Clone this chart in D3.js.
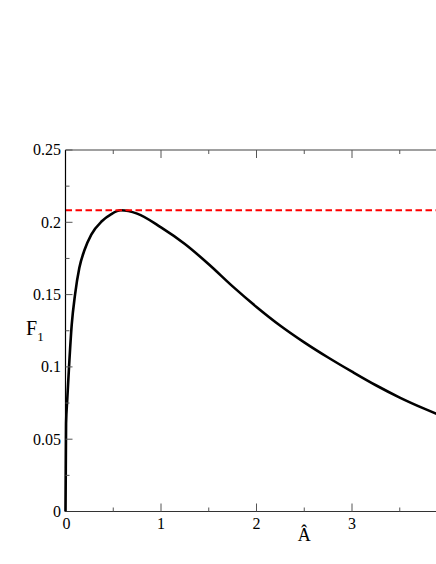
<!DOCTYPE html>
<html><head><meta charset="utf-8">
<script src="https://cdn.jsdelivr.net/npm/d3@7"></script>
<style>html,body{margin:0;padding:0;background:#fff;overflow:hidden}
text{font-family:"Liberation Serif","Times New Roman",Times,"DejaVu Serif",serif}</style>
</head><body>
<script>
// Data
const curveX = [0, 0.003, 0.006, 0.018, 0.037, 0.065, 0.1, 0.145, 0.2, 0.27, 0.38, 0.48, 0.58, 0.75, 1.0, 1.25, 1.5, 1.75, 2.0, 2.25, 2.5, 2.75, 3.0, 3.25, 3.5, 3.75, 4.0];
const curveY = [0, 0.03, 0.061, 0.077, 0.1, 0.129, 0.15, 0.1685, 0.181, 0.1915, 0.2007, 0.2057, 0.2083, 0.206, 0.1965, 0.185, 0.171, 0.1557, 0.1415, 0.1285, 0.117, 0.1065, 0.0967, 0.0873, 0.0788, 0.0713, 0.0645];
const maxLevel = [0.2083];
const xMajorTicks = [0, 1, 2, 3];
const xMinorTicks = [0.5, 1.5, 2.5, 3.5];
const yMajorTicks = [0, 0.05, 0.1, 0.15, 0.2, 0.25];
const yMinorTicks = [0.025, 0.075, 0.125, 0.175, 0.225];
const yTickLabels = ["0", "0.05", "0.1", "0.15", "0.2", "0.25"];
const xTickLabels = ["0", "1", "2", "3"];

const W = 436, H = 564;
const svg = d3.select("body").append("svg").attr("width", W).attr("height", H);
const x = d3.scaleLinear().domain([0, 4]).range([65.5, 447.5]);
const y = d3.scaleLinear().domain([0, 0.25]).range([511.5, 150]);

// curve
const pts = curveX.map((v, i) => [v, curveY[i]]);
svg.append("path").datum(pts)
  .attr("fill", "none").attr("stroke", "#000").attr("stroke-width", 2.6)
  .attr("d", d3.line().x(d => x(d[0])).y(d => y(d[1])).curve(d3.curveMonotoneX));

// dashed line
svg.selectAll(".lvl").data(maxLevel).enter().append("line")
  .attr("x1", x(0)).attr("x2", x(4)).attr("y1", d => y(d)).attr("y2", d => y(d))
  .attr("stroke", "#ff0000").attr("stroke-width", 2).attr("stroke-dasharray", "6.5,3.5");

// frame
const g = svg.append("g");
g.append("line").attr("x1", x(0)).attr("x2", x(4)).attr("y1", y(0.25)).attr("y2", y(0.25)).attr("stroke", "#808080").attr("stroke-width", 1.6);
g.append("line").attr("x1", x(0)).attr("x2", x(4)).attr("y1", y(0)).attr("y2", y(0)).attr("stroke", "#333").attr("stroke-width", 1.2);
g.append("line").attr("x1", x(0)).attr("x2", x(0)).attr("y1", y(0)).attr("y2", y(0.25)).attr("stroke", "#000").attr("stroke-width", 1.2);

function xt(data, len) {
  data.forEach(v => {
    g.append("line").attr("x1", x(v)).attr("x2", x(v)).attr("y1", y(0)).attr("y2", y(0) - len).attr("stroke", "#555").attr("stroke-width", 1);
    g.append("line").attr("x1", x(v)).attr("x2", x(v)).attr("y1", y(0.25)).attr("y2", y(0.25) + len).attr("stroke", "#555").attr("stroke-width", 1);
  });
}
xt(xMajorTicks.slice(1), 8);
xt(xMinorTicks, 4);
function yt(data, len) {
  data.forEach(v => {
    g.append("line").attr("x1", x(0)).attr("x2", x(0) + len).attr("y1", y(v)).attr("y2", y(v)).attr("stroke", "#555").attr("stroke-width", 1);
  });
}
yt(yMajorTicks.slice(1), 7);
yt(yMinorTicks, 4);

// tick labels
svg.selectAll(".yl").data(yMajorTicks).enter().append("text")
  .attr("x", 61).attr("y", d => y(d)).attr("dy", "0.34em")
  .attr("text-anchor", "end").attr("font-size", 16)
  .text((d, i) => yTickLabels[i]);
svg.selectAll(".xl").data(xMajorTicks).enter().append("text")
  .attr("x", d => x(d) + (d === 0 ? 1 : 0)).attr("y", 528.5)
  .attr("text-anchor", "middle").attr("font-size", 16)
  .text((d, i) => xTickLabels[i]);

// axis titles
svg.append("text").attr("x", x(2.5)).attr("y", 541).attr("text-anchor", "middle")
  .attr("font-size", 18).text("Â");
const fl = svg.append("text").attr("x", 26).attr("y", 335).attr("font-size", 20);
fl.append("tspan").text("F");
fl.append("tspan").attr("font-size", 13).attr("dy", 6).text("1");
</script>
</body></html>
